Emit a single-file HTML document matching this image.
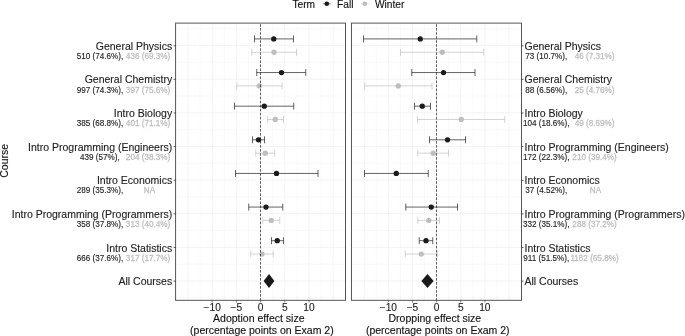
<!DOCTYPE html>
<html lang="en"><head><meta charset="utf-8"><title>Effect sizes</title>
<style>html,body{margin:0;padding:0;background:#fff}svg{display:block}</style></head>
<body>
<svg width="685" height="336" viewBox="0 0 685 336" font-family='"Liberation Sans", sans-serif'>
<rect width="685" height="336" fill="#fff"/>
<style>text{paint-order:stroke;stroke-width:0.13px;stroke-linejoin:round}.k{stroke:#222}.g{stroke:#bebebe;stroke-width:0.28px}.a{stroke:#111}</style>
<g>
<line x1="188.00" x2="188.00" y1="23.1" y2="300.3" stroke="#ebebeb" stroke-width="0.55"/>
<line x1="200.10" x2="200.10" y1="23.1" y2="300.3" stroke="#ebebeb" stroke-width="0.3"/>
<line x1="212.20" x2="212.20" y1="23.1" y2="300.3" stroke="#ebebeb" stroke-width="0.55"/>
<line x1="224.30" x2="224.30" y1="23.1" y2="300.3" stroke="#ebebeb" stroke-width="0.3"/>
<line x1="236.40" x2="236.40" y1="23.1" y2="300.3" stroke="#ebebeb" stroke-width="0.55"/>
<line x1="248.50" x2="248.50" y1="23.1" y2="300.3" stroke="#ebebeb" stroke-width="0.3"/>
<line x1="260.60" x2="260.60" y1="23.1" y2="300.3" stroke="#ebebeb" stroke-width="0.55"/>
<line x1="272.70" x2="272.70" y1="23.1" y2="300.3" stroke="#ebebeb" stroke-width="0.3"/>
<line x1="284.80" x2="284.80" y1="23.1" y2="300.3" stroke="#ebebeb" stroke-width="0.55"/>
<line x1="296.90" x2="296.90" y1="23.1" y2="300.3" stroke="#ebebeb" stroke-width="0.3"/>
<line x1="309.00" x2="309.00" y1="23.1" y2="300.3" stroke="#ebebeb" stroke-width="0.55"/>
<line x1="321.10" x2="321.10" y1="23.1" y2="300.3" stroke="#ebebeb" stroke-width="0.3"/>
<line x1="333.20" x2="333.20" y1="23.1" y2="300.3" stroke="#ebebeb" stroke-width="0.55"/>
<line x1="175.6" x2="345.5" y1="45.55" y2="45.55" stroke="#ebebeb" stroke-width="0.6"/>
<line x1="175.6" x2="345.5" y1="79.18" y2="79.18" stroke="#ebebeb" stroke-width="0.6"/>
<line x1="175.6" x2="345.5" y1="112.81" y2="112.81" stroke="#ebebeb" stroke-width="0.6"/>
<line x1="175.6" x2="345.5" y1="146.44" y2="146.44" stroke="#ebebeb" stroke-width="0.6"/>
<line x1="175.6" x2="345.5" y1="180.07" y2="180.07" stroke="#ebebeb" stroke-width="0.6"/>
<line x1="175.6" x2="345.5" y1="213.70" y2="213.70" stroke="#ebebeb" stroke-width="0.6"/>
<line x1="175.6" x2="345.5" y1="247.33" y2="247.33" stroke="#ebebeb" stroke-width="0.6"/>
<line x1="175.6" x2="345.5" y1="280.96" y2="280.96" stroke="#ebebeb" stroke-width="0.6"/>
<line x1="175.6" x2="345.5" y1="28.73" y2="28.73" stroke="#ebebeb" stroke-width="0.3"/>
<line x1="175.6" x2="345.5" y1="62.36" y2="62.36" stroke="#ebebeb" stroke-width="0.3"/>
<line x1="175.6" x2="345.5" y1="96.00" y2="96.00" stroke="#ebebeb" stroke-width="0.3"/>
<line x1="175.6" x2="345.5" y1="129.62" y2="129.62" stroke="#ebebeb" stroke-width="0.3"/>
<line x1="175.6" x2="345.5" y1="163.25" y2="163.25" stroke="#ebebeb" stroke-width="0.3"/>
<line x1="175.6" x2="345.5" y1="196.88" y2="196.88" stroke="#ebebeb" stroke-width="0.3"/>
<line x1="175.6" x2="345.5" y1="230.51" y2="230.51" stroke="#ebebeb" stroke-width="0.3"/>
<line x1="175.6" x2="345.5" y1="264.15" y2="264.15" stroke="#ebebeb" stroke-width="0.3"/>
<line x1="175.6" x2="345.5" y1="297.78" y2="297.78" stroke="#ebebeb" stroke-width="0.3"/>
<path d="M254.5 38.92H293.5M254.5 35.42V42.42M293.5 35.42V42.42" stroke="#1a1a1a" stroke-width="0.68" fill="none"/>
<circle cx="273.75" cy="38.92" r="2.65" fill="#1a1a1a"/>
<path d="M251.75 52.25H296.5M251.75 48.75V55.75M296.5 48.75V55.75" stroke="#bebebe" stroke-width="0.68" fill="none"/>
<circle cx="274" cy="52.25" r="2.65" fill="#bebebe"/>
<path d="M256.75 72.55H305.75M256.75 69.05V76.05M305.75 69.05V76.05" stroke="#1a1a1a" stroke-width="0.68" fill="none"/>
<circle cx="281.5" cy="72.55" r="2.65" fill="#1a1a1a"/>
<path d="M236.75 85.88H282M236.75 82.38V89.38M282 82.38V89.38" stroke="#bebebe" stroke-width="0.68" fill="none"/>
<circle cx="259.25" cy="85.88" r="2.65" fill="#bebebe"/>
<path d="M234.5 106.18H293.75M234.5 102.68V109.68M293.75 102.68V109.68" stroke="#1a1a1a" stroke-width="0.68" fill="none"/>
<circle cx="264.25" cy="106.18" r="2.65" fill="#1a1a1a"/>
<path d="M267.75 119.51H283.5M267.75 116.01V123.01M283.5 116.01V123.01" stroke="#bebebe" stroke-width="0.68" fill="none"/>
<circle cx="275.25" cy="119.51" r="2.65" fill="#bebebe"/>
<path d="M252.5 139.81H264.5M252.5 136.31V143.31M264.5 136.31V143.31" stroke="#1a1a1a" stroke-width="0.68" fill="none"/>
<circle cx="258.5" cy="139.81" r="2.65" fill="#1a1a1a"/>
<path d="M255.75 153.14H274.75M255.75 149.64V156.64M274.75 149.64V156.64" stroke="#bebebe" stroke-width="0.68" fill="none"/>
<circle cx="265.25" cy="153.14" r="2.65" fill="#bebebe"/>
<path d="M235.5 173.44H318M235.5 169.94V176.94M318 169.94V176.94" stroke="#1a1a1a" stroke-width="0.68" fill="none"/>
<circle cx="276.5" cy="173.44" r="2.65" fill="#1a1a1a"/>
<path d="M248.75 207.07H282.75M248.75 203.57V210.57M282.75 203.57V210.57" stroke="#1a1a1a" stroke-width="0.68" fill="none"/>
<circle cx="266" cy="207.07" r="2.65" fill="#1a1a1a"/>
<path d="M262.75 220.40H279.75M262.75 216.90V223.90M279.75 216.90V223.90" stroke="#bebebe" stroke-width="0.68" fill="none"/>
<circle cx="271.25" cy="220.40" r="2.65" fill="#bebebe"/>
<path d="M271.5 240.70H283.5M271.5 237.20V244.20M283.5 237.20V244.20" stroke="#1a1a1a" stroke-width="0.68" fill="none"/>
<circle cx="277.25" cy="240.70" r="2.65" fill="#1a1a1a"/>
<path d="M250.75 254.03H273.25M250.75 250.53V257.53M273.25 250.53V257.53" stroke="#bebebe" stroke-width="0.68" fill="none"/>
<circle cx="262" cy="254.03" r="2.65" fill="#bebebe"/>
<path d="M263.6 280.96L269.0 273.96L274.4 280.96L269.0 287.96Z" fill="#1a1a1a"/>
<line x1="260.5" x2="260.5" y1="23.1" y2="300.3" stroke="#1a1a1a" stroke-width="0.7" stroke-dasharray="2.5 1.53" stroke-dashoffset="-1.08"/>
<rect x="175.6" y="23.1" width="169.90" height="277.20" fill="none" stroke="#4d4d4d" stroke-width="0.95"/>
<line x1="212.20" x2="212.20" y1="300.3" y2="302.5" stroke="#333" stroke-width="0.6"/>
<text x="212.20" y="310.9" font-size="10.2" text-anchor="middle" fill="#222" class="k">−10</text>
<line x1="236.40" x2="236.40" y1="300.3" y2="302.5" stroke="#333" stroke-width="0.6"/>
<text x="236.40" y="310.9" font-size="10.2" text-anchor="middle" fill="#222" class="k">−5</text>
<line x1="260.60" x2="260.60" y1="300.3" y2="302.5" stroke="#333" stroke-width="0.6"/>
<text x="260.60" y="310.9" font-size="10.2" text-anchor="middle" fill="#222" class="k">0</text>
<line x1="284.80" x2="284.80" y1="300.3" y2="302.5" stroke="#333" stroke-width="0.6"/>
<text x="284.80" y="310.9" font-size="10.2" text-anchor="middle" fill="#222" class="k">5</text>
<line x1="309.00" x2="309.00" y1="300.3" y2="302.5" stroke="#333" stroke-width="0.6"/>
<text x="309.00" y="310.9" font-size="10.2" text-anchor="middle" fill="#222" class="k">10</text>
</g>
<g>
<line x1="364.23" x2="364.23" y1="23.1" y2="300.3" stroke="#ebebeb" stroke-width="0.55"/>
<line x1="376.29" x2="376.29" y1="23.1" y2="300.3" stroke="#ebebeb" stroke-width="0.3"/>
<line x1="388.35" x2="388.35" y1="23.1" y2="300.3" stroke="#ebebeb" stroke-width="0.55"/>
<line x1="400.41" x2="400.41" y1="23.1" y2="300.3" stroke="#ebebeb" stroke-width="0.3"/>
<line x1="412.48" x2="412.48" y1="23.1" y2="300.3" stroke="#ebebeb" stroke-width="0.55"/>
<line x1="424.54" x2="424.54" y1="23.1" y2="300.3" stroke="#ebebeb" stroke-width="0.3"/>
<line x1="436.60" x2="436.60" y1="23.1" y2="300.3" stroke="#ebebeb" stroke-width="0.55"/>
<line x1="448.66" x2="448.66" y1="23.1" y2="300.3" stroke="#ebebeb" stroke-width="0.3"/>
<line x1="460.73" x2="460.73" y1="23.1" y2="300.3" stroke="#ebebeb" stroke-width="0.55"/>
<line x1="472.79" x2="472.79" y1="23.1" y2="300.3" stroke="#ebebeb" stroke-width="0.3"/>
<line x1="484.85" x2="484.85" y1="23.1" y2="300.3" stroke="#ebebeb" stroke-width="0.55"/>
<line x1="496.91" x2="496.91" y1="23.1" y2="300.3" stroke="#ebebeb" stroke-width="0.3"/>
<line x1="508.98" x2="508.98" y1="23.1" y2="300.3" stroke="#ebebeb" stroke-width="0.55"/>
<line x1="351.45" x2="521.5" y1="45.55" y2="45.55" stroke="#ebebeb" stroke-width="0.6"/>
<line x1="351.45" x2="521.5" y1="79.18" y2="79.18" stroke="#ebebeb" stroke-width="0.6"/>
<line x1="351.45" x2="521.5" y1="112.81" y2="112.81" stroke="#ebebeb" stroke-width="0.6"/>
<line x1="351.45" x2="521.5" y1="146.44" y2="146.44" stroke="#ebebeb" stroke-width="0.6"/>
<line x1="351.45" x2="521.5" y1="180.07" y2="180.07" stroke="#ebebeb" stroke-width="0.6"/>
<line x1="351.45" x2="521.5" y1="213.70" y2="213.70" stroke="#ebebeb" stroke-width="0.6"/>
<line x1="351.45" x2="521.5" y1="247.33" y2="247.33" stroke="#ebebeb" stroke-width="0.6"/>
<line x1="351.45" x2="521.5" y1="280.96" y2="280.96" stroke="#ebebeb" stroke-width="0.6"/>
<line x1="351.45" x2="521.5" y1="28.73" y2="28.73" stroke="#ebebeb" stroke-width="0.3"/>
<line x1="351.45" x2="521.5" y1="62.36" y2="62.36" stroke="#ebebeb" stroke-width="0.3"/>
<line x1="351.45" x2="521.5" y1="96.00" y2="96.00" stroke="#ebebeb" stroke-width="0.3"/>
<line x1="351.45" x2="521.5" y1="129.62" y2="129.62" stroke="#ebebeb" stroke-width="0.3"/>
<line x1="351.45" x2="521.5" y1="163.25" y2="163.25" stroke="#ebebeb" stroke-width="0.3"/>
<line x1="351.45" x2="521.5" y1="196.88" y2="196.88" stroke="#ebebeb" stroke-width="0.3"/>
<line x1="351.45" x2="521.5" y1="230.51" y2="230.51" stroke="#ebebeb" stroke-width="0.3"/>
<line x1="351.45" x2="521.5" y1="264.15" y2="264.15" stroke="#ebebeb" stroke-width="0.3"/>
<line x1="351.45" x2="521.5" y1="297.78" y2="297.78" stroke="#ebebeb" stroke-width="0.3"/>
<path d="M363.5 38.92H476.75M363.5 35.42V42.42M476.75 35.42V42.42" stroke="#1a1a1a" stroke-width="0.68" fill="none"/>
<circle cx="420.25" cy="38.92" r="2.65" fill="#1a1a1a"/>
<path d="M400.5 52.25H483.75M400.5 48.75V55.75M483.75 48.75V55.75" stroke="#bebebe" stroke-width="0.68" fill="none"/>
<circle cx="442.25" cy="52.25" r="2.65" fill="#bebebe"/>
<path d="M411.75 72.55H475M411.75 69.05V76.05M475 69.05V76.05" stroke="#1a1a1a" stroke-width="0.68" fill="none"/>
<circle cx="443.5" cy="72.55" r="2.65" fill="#1a1a1a"/>
<path d="M364.75 85.88H432M364.75 82.38V89.38M432 82.38V89.38" stroke="#bebebe" stroke-width="0.68" fill="none"/>
<circle cx="398.25" cy="85.88" r="2.65" fill="#bebebe"/>
<path d="M414.5 106.18H430.5M414.5 102.68V109.68M430.5 102.68V109.68" stroke="#1a1a1a" stroke-width="0.68" fill="none"/>
<circle cx="422.25" cy="106.18" r="2.65" fill="#1a1a1a"/>
<path d="M417.5 119.51H504.75M417.5 116.01V123.01M504.75 116.01V123.01" stroke="#bebebe" stroke-width="0.68" fill="none"/>
<circle cx="461.25" cy="119.51" r="2.65" fill="#bebebe"/>
<path d="M429.5 139.81H465.5M429.5 136.31V143.31M465.5 136.31V143.31" stroke="#1a1a1a" stroke-width="0.68" fill="none"/>
<circle cx="447.5" cy="139.81" r="2.65" fill="#1a1a1a"/>
<path d="M417.75 153.14H448.5M417.75 149.64V156.64M448.5 149.64V156.64" stroke="#bebebe" stroke-width="0.68" fill="none"/>
<circle cx="433.25" cy="153.14" r="2.65" fill="#bebebe"/>
<path d="M364.5 173.44H428.25M364.5 169.94V176.94M428.25 169.94V176.94" stroke="#1a1a1a" stroke-width="0.68" fill="none"/>
<circle cx="396.25" cy="173.44" r="2.65" fill="#1a1a1a"/>
<path d="M405.75 207.07H457.5M405.75 203.57V210.57M457.5 203.57V210.57" stroke="#1a1a1a" stroke-width="0.68" fill="none"/>
<circle cx="431.25" cy="207.07" r="2.65" fill="#1a1a1a"/>
<path d="M417.75 220.40H439.5M417.75 216.90V223.90M439.5 216.90V223.90" stroke="#bebebe" stroke-width="0.68" fill="none"/>
<circle cx="428.75" cy="220.40" r="2.65" fill="#bebebe"/>
<path d="M419.25 240.70H432.75M419.25 237.20V244.20M432.75 237.20V244.20" stroke="#1a1a1a" stroke-width="0.68" fill="none"/>
<circle cx="426" cy="240.70" r="2.65" fill="#1a1a1a"/>
<path d="M405.25 254.03H437.25M405.25 250.53V257.53M437.25 250.53V257.53" stroke="#bebebe" stroke-width="0.68" fill="none"/>
<circle cx="421.25" cy="254.03" r="2.65" fill="#bebebe"/>
<path d="M421.35 280.96L427.5 273.96L433.65 280.96L427.5 287.96Z" fill="#1a1a1a"/>
<line x1="436.5" x2="436.5" y1="23.1" y2="300.3" stroke="#1a1a1a" stroke-width="0.7" stroke-dasharray="2.5 1.53" stroke-dashoffset="-1.08"/>
<rect x="351.45" y="23.1" width="170.05" height="277.20" fill="none" stroke="#4d4d4d" stroke-width="0.95"/>
<line x1="388.35" x2="388.35" y1="300.3" y2="302.5" stroke="#333" stroke-width="0.6"/>
<text x="388.35" y="310.9" font-size="10.2" text-anchor="middle" fill="#222" class="k">−10</text>
<line x1="412.48" x2="412.48" y1="300.3" y2="302.5" stroke="#333" stroke-width="0.6"/>
<text x="412.48" y="310.9" font-size="10.2" text-anchor="middle" fill="#222" class="k">−5</text>
<line x1="436.60" x2="436.60" y1="300.3" y2="302.5" stroke="#333" stroke-width="0.6"/>
<text x="436.60" y="310.9" font-size="10.2" text-anchor="middle" fill="#222" class="k">0</text>
<line x1="460.73" x2="460.73" y1="300.3" y2="302.5" stroke="#333" stroke-width="0.6"/>
<text x="460.73" y="310.9" font-size="10.2" text-anchor="middle" fill="#222" class="k">5</text>
<line x1="484.85" x2="484.85" y1="300.3" y2="302.5" stroke="#333" stroke-width="0.6"/>
<text x="484.85" y="310.9" font-size="10.2" text-anchor="middle" fill="#222" class="k">10</text>
</g>
<line x1="173.6" x2="175.6" y1="45.75" y2="45.75" stroke="#333" stroke-width="0.8"/>
<line x1="521.5" x2="523.5" y1="45.75" y2="45.75" stroke="#333" stroke-width="0.8"/>
<line x1="173.6" x2="175.6" y1="79.38" y2="79.38" stroke="#333" stroke-width="0.8"/>
<line x1="521.5" x2="523.5" y1="79.38" y2="79.38" stroke="#333" stroke-width="0.8"/>
<line x1="173.6" x2="175.6" y1="113.01" y2="113.01" stroke="#333" stroke-width="0.8"/>
<line x1="521.5" x2="523.5" y1="113.01" y2="113.01" stroke="#333" stroke-width="0.8"/>
<line x1="173.6" x2="175.6" y1="146.64" y2="146.64" stroke="#333" stroke-width="0.8"/>
<line x1="521.5" x2="523.5" y1="146.64" y2="146.64" stroke="#333" stroke-width="0.8"/>
<line x1="173.6" x2="175.6" y1="180.27" y2="180.27" stroke="#333" stroke-width="0.8"/>
<line x1="521.5" x2="523.5" y1="180.27" y2="180.27" stroke="#333" stroke-width="0.8"/>
<line x1="173.6" x2="175.6" y1="213.90" y2="213.90" stroke="#333" stroke-width="0.8"/>
<line x1="521.5" x2="523.5" y1="213.90" y2="213.90" stroke="#333" stroke-width="0.8"/>
<line x1="173.6" x2="175.6" y1="247.53" y2="247.53" stroke="#333" stroke-width="0.8"/>
<line x1="521.5" x2="523.5" y1="247.53" y2="247.53" stroke="#333" stroke-width="0.8"/>
<line x1="173.6" x2="175.6" y1="281.16" y2="281.16" stroke="#333" stroke-width="0.8"/>
<line x1="521.5" x2="523.5" y1="281.16" y2="281.16" stroke="#333" stroke-width="0.8"/>
<text x="172.2" y="49.75" font-size="10.5" text-anchor="end" fill="#222" class="k">General Physics</text>
<text x="524.5" y="49.75" font-size="10.5" text-anchor="start" fill="#222" class="k">General Physics</text>
<text x="99.9" y="58.95" font-size="8.15" text-anchor="middle" fill="#222" class="k">510 (74.6%),</text>
<text x="148.0" y="58.95" font-size="8.15" text-anchor="middle" fill="#bebebe" class="g">436 (69.3%)</text>
<text x="546.25" y="58.95" font-size="8.15" text-anchor="middle" fill="#222" class="k">73 (10.7%),</text>
<text x="594.5" y="58.95" font-size="8.15" text-anchor="middle" fill="#bebebe" class="g">46 (7.31%)</text>
<text x="172.2" y="83.38" font-size="10.5" text-anchor="end" fill="#222" class="k">General Chemistry</text>
<text x="524.5" y="83.38" font-size="10.5" text-anchor="start" fill="#222" class="k">General Chemistry</text>
<text x="99.9" y="92.58" font-size="8.15" text-anchor="middle" fill="#222" class="k">997 (74.3%),</text>
<text x="148.0" y="92.58" font-size="8.15" text-anchor="middle" fill="#bebebe" class="g">397 (75.6%)</text>
<text x="546.25" y="92.58" font-size="8.15" text-anchor="middle" fill="#222" class="k">88 (6.56%),</text>
<text x="594.5" y="92.58" font-size="8.15" text-anchor="middle" fill="#bebebe" class="g">25 (4.76%)</text>
<text x="172.2" y="117.01" font-size="10.5" text-anchor="end" fill="#222" class="k">Intro Biology</text>
<text x="524.5" y="117.01" font-size="10.5" text-anchor="start" fill="#222" class="k">Intro Biology</text>
<text x="99.9" y="126.21" font-size="8.15" text-anchor="middle" fill="#222" class="k">385 (68.8%),</text>
<text x="148.0" y="126.21" font-size="8.15" text-anchor="middle" fill="#bebebe" class="g">401 (71.1%)</text>
<text x="546.25" y="126.21" font-size="8.15" text-anchor="middle" fill="#222" class="k">104 (18.6%),</text>
<text x="594.5" y="126.21" font-size="8.15" text-anchor="middle" fill="#bebebe" class="g">49 (8.69%)</text>
<text x="172.2" y="150.64" font-size="10.5" text-anchor="end" fill="#222" class="k">Intro Programming (Engineers)</text>
<text x="524.5" y="150.64" font-size="10.5" text-anchor="start" fill="#222" class="k">Intro Programming (Engineers)</text>
<text x="99.9" y="159.84" font-size="8.15" text-anchor="middle" fill="#222" class="k">439 (57%),</text>
<text x="148.0" y="159.84" font-size="8.15" text-anchor="middle" fill="#bebebe" class="g">204 (38.3%)</text>
<text x="546.25" y="159.84" font-size="8.15" text-anchor="middle" fill="#222" class="k">172 (22.3%),</text>
<text x="594.5" y="159.84" font-size="8.15" text-anchor="middle" fill="#bebebe" class="g">210 (39.4%)</text>
<text x="172.2" y="184.27" font-size="10.5" text-anchor="end" fill="#222" class="k">Intro Economics</text>
<text x="524.5" y="184.27" font-size="10.5" text-anchor="start" fill="#222" class="k">Intro Economics</text>
<text x="99.9" y="193.47" font-size="8.15" text-anchor="middle" fill="#222" class="k">289 (35.3%),</text>
<text x="149.5" y="193.47" font-size="8.15" text-anchor="middle" fill="#bebebe" class="g">NA</text>
<text x="546.25" y="193.47" font-size="8.15" text-anchor="middle" fill="#222" class="k">37 (4.52%),</text>
<text x="595.5" y="193.47" font-size="8.15" text-anchor="middle" fill="#bebebe" class="g">NA</text>
<text x="172.2" y="217.90" font-size="10.5" text-anchor="end" fill="#222" class="k">Intro Programming (Programmers)</text>
<text x="524.5" y="217.90" font-size="10.5" text-anchor="start" fill="#222" class="k">Intro Programming (Programmers)</text>
<text x="99.9" y="227.10" font-size="8.15" text-anchor="middle" fill="#222" class="k">358 (37.8%),</text>
<text x="148.0" y="227.10" font-size="8.15" text-anchor="middle" fill="#bebebe" class="g">313 (40.4%)</text>
<text x="546.25" y="227.10" font-size="8.15" text-anchor="middle" fill="#222" class="k">332 (35.1%),</text>
<text x="594.5" y="227.10" font-size="8.15" text-anchor="middle" fill="#bebebe" class="g">288 (37.2%)</text>
<text x="172.2" y="251.53" font-size="10.5" text-anchor="end" fill="#222" class="k">Intro Statistics</text>
<text x="524.5" y="251.53" font-size="10.5" text-anchor="start" fill="#222" class="k">Intro Statistics</text>
<text x="99.9" y="260.73" font-size="8.15" text-anchor="middle" fill="#222" class="k">666 (37.6%),</text>
<text x="148.0" y="260.73" font-size="8.15" text-anchor="middle" fill="#bebebe" class="g">317 (17.7%)</text>
<text x="546.25" y="260.73" font-size="8.15" text-anchor="middle" fill="#222" class="k">911 (51.5%),</text>
<text x="594.5" y="260.73" font-size="8.15" text-anchor="middle" fill="#bebebe" class="g">1182 (65.8%)</text>
<text x="172.2" y="285.16" font-size="10.5" text-anchor="end" fill="#222" class="k">All Courses</text>
<text x="524.5" y="285.16" font-size="10.5" text-anchor="start" fill="#222" class="k">All Courses</text>
<text x="258.8" y="321.9" font-size="10.5" text-anchor="middle" fill="#111" class="a">Adoption effect size</text>
<text x="261.85" y="333.6" font-size="10.5" text-anchor="middle" fill="#111" class="a">(percentage points on Exam 2)</text>
<text x="434.85" y="321.9" font-size="10.5" text-anchor="middle" fill="#111" class="a">Dropping effect size</text>
<text x="437.7" y="333.6" font-size="10.5" text-anchor="middle" fill="#111" class="a">(percentage points on Exam 2)</text>
<text transform="translate(7.7 160.8) rotate(-90)" font-size="10.5" text-anchor="middle" fill="#111" class="a">Course</text>
<text x="292.4" y="7.9" font-size="10.2" fill="#111" class="a">Term</text>
<line x1="322.8" x2="330.8" y1="3.8" y2="3.8" stroke="#1a1a1a" stroke-width="0.55"/>
<circle cx="326.8" cy="3.8" r="2.3" fill="#1a1a1a"/>
<text x="337.0" y="7.9" font-size="10.2" fill="#111" class="a">Fall</text>
<line x1="360.8" x2="368.8" y1="3.8" y2="3.8" stroke="#bebebe" stroke-width="0.55"/>
<circle cx="364.8" cy="3.8" r="2.3" fill="#bebebe"/>
<text x="374.9" y="7.9" font-size="10.2" fill="#111" class="a">Winter</text>
</svg>
</body></html>
